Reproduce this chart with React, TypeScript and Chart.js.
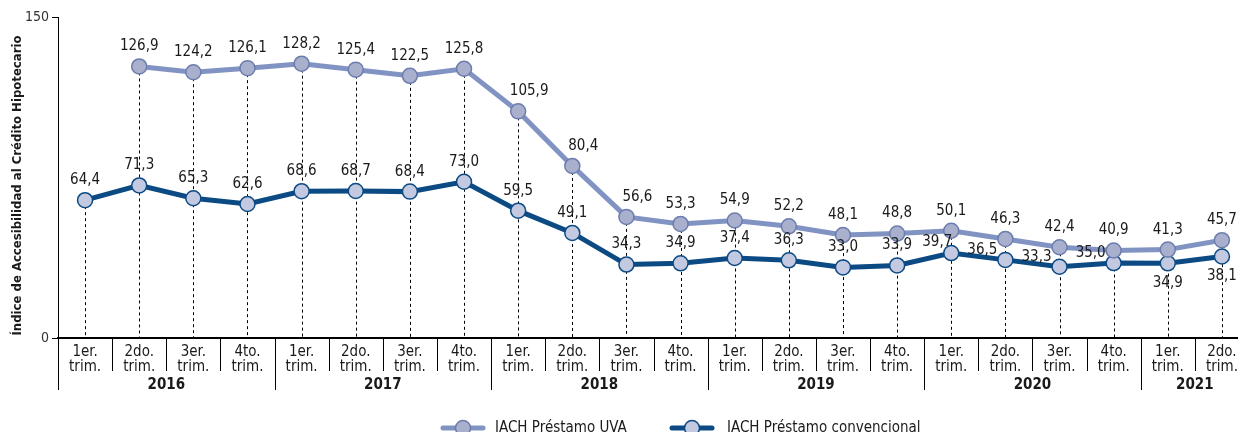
import React, { useEffect, useRef } from "react";
import { Chart, registerables } from "chart.js";

Chart.register(...registerables);

const quarterLabels: string[][] = [
  ["1er.", "trim."], ["2do.", "trim."], ["3er.", "trim."], ["4to.", "trim."],
  ["1er.", "trim."], ["2do.", "trim."], ["3er.", "trim."], ["4to.", "trim."],
  ["1er.", "trim."], ["2do.", "trim."], ["3er.", "trim."], ["4to.", "trim."],
  ["1er.", "trim."], ["2do.", "trim."], ["3er.", "trim."], ["4to.", "trim."],
  ["1er.", "trim."], ["2do.", "trim."], ["3er.", "trim."], ["4to.", "trim."],
  ["1er.", "trim."], ["2do.", "trim."],
];
const yearLabels = ["2016", "2017", "2018", "2019", "2020", "2021"];
const yearCounts = [4, 4, 4, 4, 4, 2];

const uvaValues: (number | null)[] = [
  null, 126.9, 124.2, 126.1, 128.2, 125.4, 122.5, 125.8,
  105.9, 80.4, 56.6, 53.3, 54.9, 52.2, 48.1, 48.8,
  50.1, 46.3, 42.4, 40.9, 41.3, 45.7,
];
const convValues: number[] = [
  64.4, 71.3, 65.3, 62.6, 68.6, 68.7, 68.4, 73.0,
  59.5, 49.1, 34.3, 34.9, 37.4, 36.3, 33.0, 33.9,
  39.7, 36.5, 33.3, 35.0, 34.9, 38.1,
];
const yTicks = [0, 150];

const seriesNames = ["IACH Préstamo UVA", "IACH Préstamo convencional"];
const yTitle = "Índice de Accesibilidad al Crédito Hipotecario";

// label placement (style config)
const uvaPlace = ["a", "a", "a", "a", "a", "a", "a", "a", "ar", "ar", "ar", "a", "a", "a", "a", "a", "a", "a", "a", "a", "a", "a"];
const convPlace = ["a", "a", "a", "a", "a", "a", "a", "a", "a", "a", "a", "a", "a", "a", "a", "a", "al", "al2", "al2", "al2", "b", "b"];

const FONT = "'DejaVu Sans Condensed', 'DejaVu Sans', sans-serif";
const UVA_LINE = "#8193c2";
const UVA_FILL = "#a9b0cd";
const UVA_BORDER = "#6c7dad";
const CONV_LINE = "#0c4a84";
const CONV_FILL = "#c2c9e1";
const CONV_BORDER = "#0c4a84";
const TEXT = "#1a1a1a";

const fmt = (v: number) => v.toFixed(1).replace(".", ",");

const customPlugin = {
  id: "custom",
  beforeDatasetsDraw(chart: any) {
    const { ctx } = chart;
    const x = chart.scales.x;
    const y = chart.scales.y;
    ctx.save();
    ctx.strokeStyle = "#000";
    ctx.lineWidth = 1;
    ctx.setLineDash([3, 3]);
    for (let i = 0; i < convValues.length; i++) {
      const top = uvaValues[i] != null ? (uvaValues[i] as number) : convValues[i];
      const px = Math.round(x.getPixelForValue(i)) + 0.5;
      ctx.beginPath();
      ctx.moveTo(px, y.getPixelForValue(top));
      ctx.lineTo(px, y.getPixelForValue(0));
      ctx.stroke();
    }
    ctx.restore();
  },
  afterDraw(chart: any) {
    const { ctx } = chart;
    const x = chart.scales.x;
    const y = chart.scales.y;
    const base = y.getPixelForValue(0);
    const step = x.getPixelForValue(1) - x.getPixelForValue(0);
    ctx.save();

    ctx.strokeStyle = "#000";
    ctx.lineWidth = 1;
    // category labels
    ctx.fillStyle = TEXT;
    ctx.font = `15px ${FONT}`;
    ctx.textAlign = "center";
    ctx.textBaseline = "middle";
    for (let i = 0; i < quarterLabels.length; i++) {
      const cx = x.getPixelForValue(i);
      ctx.fillText(quarterLabels[i][0], cx, base + 14);
      ctx.fillText(quarterLabels[i][1], cx, base + 29);
    }
    // separators
    const yearStarts = new Set<number>();
    let acc = 0;
    for (const c of yearCounts) {
      yearStarts.add(acc);
      acc += c;
    }
    yearStarts.add(acc);
    for (let i = 0; i <= quarterLabels.length; i++) {
      const bx = Math.round(x.getPixelForValue(i) - step / 2) + 0.5;
      ctx.beginPath();
      ctx.moveTo(bx, base);
      ctx.lineTo(bx, yearStarts.has(i) ? base + 52 : base + 33);
      ctx.stroke();
    }
    // year labels
    ctx.font = `bold 15px ${FONT}`;
    acc = 0;
    for (let k = 0; k < yearLabels.length; k++) {
      const l = x.getPixelForValue(acc) - step / 2;
      const r = x.getPixelForValue(acc + yearCounts[k] - 1) + step / 2;
      ctx.fillText(yearLabels[k], (l + r) / 2, base + 47);
      acc += yearCounts[k];
    }

    // y title
    ctx.save();
    ctx.translate(18, (chart.chartArea.top + base) / 2 + 8);
    ctx.rotate(-Math.PI / 2);
    ctx.font = `bold 13px ${FONT}`;
    ctx.fillStyle = TEXT;
    ctx.fillText(yTitle, 0, 0);
    ctx.restore();

    // data labels
    ctx.font = `15px ${FONT}`;
    ctx.fillStyle = TEXT;
    const drawLabel = (v: number, i: number, place: string) => {
      const px = x.getPixelForValue(i);
      const py = y.getPixelForValue(v);
      let dx = 0;
      let dy = -20;
      if (place === "ar") dx = 11;
      if (place === "al") { dx = -14; dy = -11; }
      if (place === "al2") { dx = -23; dy = -10; }
      if (place === "b") dy = 20;
      ctx.fillText(fmt(v), px + dx, py + dy);
    };
    uvaValues.forEach((v, i) => { if (v != null) drawLabel(v, i, uvaPlace[i]); });
    convValues.forEach((v, i) => drawLabel(v, i, convPlace[i]));

    // legend
    const legendY = 428;
    const items = [
      { sx: 443, tx: 495, line: UVA_LINE, fill: UVA_FILL, border: UVA_BORDER, name: seriesNames[0] },
      { sx: 672, tx: 727, line: CONV_LINE, fill: CONV_FILL, border: CONV_BORDER, name: seriesNames[1] },
    ];
    for (const it of items) {
      ctx.strokeStyle = it.line;
      ctx.lineWidth = 5;
      ctx.lineCap = "round";
      ctx.beginPath();
      ctx.moveTo(it.sx, legendY);
      ctx.lineTo(it.sx + 40, legendY);
      ctx.stroke();
      ctx.beginPath();
      ctx.arc(it.sx + 20, legendY, 7.5, 0, Math.PI * 2);
      ctx.fillStyle = it.fill;
      ctx.fill();
      ctx.lineWidth = 1.5;
      ctx.strokeStyle = it.border;
      ctx.stroke();
      ctx.fillStyle = TEXT;
      ctx.font = `15px ${FONT}`;
      ctx.textAlign = "left";
      ctx.fillText(it.name, it.tx, legendY);
    }
    ctx.restore();
  },
};

export default function App() {
  const ref = useRef<HTMLCanvasElement | null>(null);
  useEffect(() => {
    if (!ref.current) return;
    const chart = new Chart(ref.current, {
      type: "line",
      data: {
        labels: quarterLabels.map((l) => l.join(" ")),
        datasets: [
          {
            label: seriesNames[0],
            data: uvaValues,
            borderColor: UVA_LINE,
            borderWidth: 5,
            pointRadius: 7.5,
            pointBackgroundColor: UVA_FILL,
            pointBorderColor: UVA_BORDER,
            pointBorderWidth: 1.5,
            tension: 0,
          },
          {
            label: seriesNames[1],
            data: convValues,
            borderColor: CONV_LINE,
            borderWidth: 5,
            pointRadius: 7.5,
            pointBackgroundColor: CONV_FILL,
            pointBorderColor: CONV_BORDER,
            pointBorderWidth: 1.5,
            tension: 0,
          },
        ],
      },
      options: {
        responsive: false,
        animation: false,
        layout: { padding: { top: 17, right: 11, left: 0, bottom: 0 } },
        plugins: { legend: { display: false }, tooltip: { enabled: false } },
        scales: {
          x: {
            type: "category",
            offset: true,
            grid: { display: false },
            ticks: { display: false },
            border: { display: true, color: "#000", width: 2 },
            afterFit: (s: any) => { s.height = 94; },
          },
          y: {
            min: 0,
            max: 150,
            afterBuildTicks: (s: any) => { s.ticks = yTicks.map((v) => ({ value: v })); },
            ticks: { color: "#333", font: { family: FONT, size: 14 }, padding: 3 },
            grid: { drawOnChartArea: false, drawTicks: true, tickLength: 6, color: "#000" },
            border: { display: true, color: "#000", width: 1 },
            afterFit: (s: any) => { s.width = 58; },
          },
        },
      },
      plugins: [customPlugin],
    } as any);
    return () => chart.destroy();
  }, []);
  return (
    <div style={{ position: "fixed", left: 0, top: 0, width: 1238, height: 432, overflow: "hidden", background: "#fff" }}>
      <canvas ref={ref} width={1260} height={432} style={{ display: "block" }} />
    </div>
  );
}
